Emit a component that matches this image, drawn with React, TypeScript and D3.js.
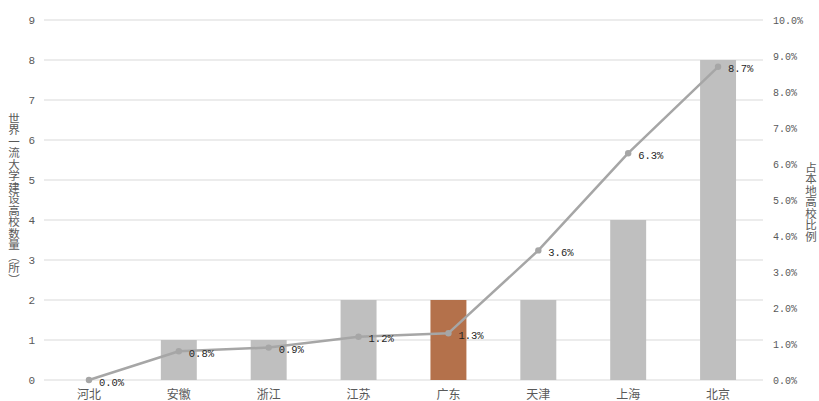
import React from "react";
import * as d3 from "d3";

const categories = ["河北", "安徽", "浙江", "江苏", "广东", "天津", "上海", "北京"];
const counts = [0, 1, 1, 2, 2, 2, 4, 8];
const shares = [0.0, 0.8, 0.9, 1.2, 1.3, 3.6, 6.3, 8.7];
const leftTicks = [0, 1, 2, 3, 4, 5, 6, 7, 8, 9];
const rightTicks = [0, 1, 2, 3, 4, 5, 6, 7, 8, 9, 10];
const highlight = "广东";
const leftTitle = "世界一流大学建设高校数量（所）";
const rightTitle = "占本地高校比例";

const W = 819;
const H = 401;
const M = { left: 44, right: 763, top: 20, bottom: 380 };

export default function App() {
  const xc = d3.scalePoint<string>().domain(categories).range([M.left, M.right]).padding(0.5);
  const yL = d3.scaleLinear().domain([0, 9]).range([M.bottom, M.top]);
  const yR = d3.scaleLinear().domain([0, 10]).range([M.bottom, M.top]);
  const bw = (M.right - M.left) / categories.length * 0.4;
  const line = d3.line<number>().x((_, i) => xc(categories[i])!).y((d) => yR(d));
  const numFont = "'Liberation Mono', 'DejaVu Sans Mono', monospace";
  const cjkFont = "'Noto Sans CJK SC', sans-serif";
  return (
    <svg width={W} height={H} style={{ position: "absolute", left: 0, top: 0, background: "#fff" }}>
      {leftTicks.map((t) => (
        <line key={t} x1={M.left} x2={M.right} y1={yL(t)} y2={yL(t)} stroke="#d9d9d9" strokeWidth={1} />
      ))}
      {leftTicks.map((t) => (
        <text key={"l" + t} x={35} y={yL(t)} dy="0.35em" textAnchor="end" fontSize={11} fill="#595959" fontFamily={numFont}>
          {t}
        </text>
      ))}
      {rightTicks.map((t) => (
        <text key={"r" + t} x={773} y={yR(t)} dy="0.35em" textAnchor="start" fontSize={10} fill="#595959" fontFamily={numFont}>
          {t.toFixed(1) + "%"}
        </text>
      ))}
      {categories.map((c, i) => (
        <rect
          key={c}
          x={xc(c)! - bw / 2}
          y={yL(counts[i])}
          width={bw}
          height={yL(0) - yL(counts[i])}
          fill={c === highlight ? "#b4714b" : "#bfbfbf"}
        />
      ))}
      <path d={line(shares)!} fill="none" stroke="#a6a6a6" strokeWidth={2.5} strokeLinejoin="round" />
      {shares.map((s, i) => (
        <circle key={"p" + i} cx={xc(categories[i])!} cy={yR(s)} r={3.2} fill="#a6a6a6" />
      ))}
      {shares.map((s, i) => (
        <text key={"t" + i} x={xc(categories[i])! + 10} y={yR(s) + 2} dy="0.35em" fontSize={10.5} fill="#262626" fontFamily={numFont}>
          {s.toFixed(1) + "%"}
        </text>
      ))}
      {categories.map((c) => (
        <text key={"c" + c} x={xc(c)!} y={395} dy="0.35em" textAnchor="middle" fontSize={12} fill="#595959" fontFamily={cjkFont}>
          {c}
        </text>
      ))}
      <text
        x={14}
        y={(M.top + M.bottom) / 2 - 1}
        textAnchor="middle"
        fontSize={11.5}
        fill="#595959"
        fontFamily={cjkFont}
        style={{ writingMode: "vertical-rl" as any }}
      >
        {leftTitle}
      </text>
      <text
        x={811}
        y={(M.top + M.bottom) / 2 + 2}
        textAnchor="middle"
        fontSize={11.5}
        fill="#595959"
        fontFamily={cjkFont}
        style={{ writingMode: "vertical-rl" as any }}
      >
        {rightTitle}
      </text>
    </svg>
  );
}
